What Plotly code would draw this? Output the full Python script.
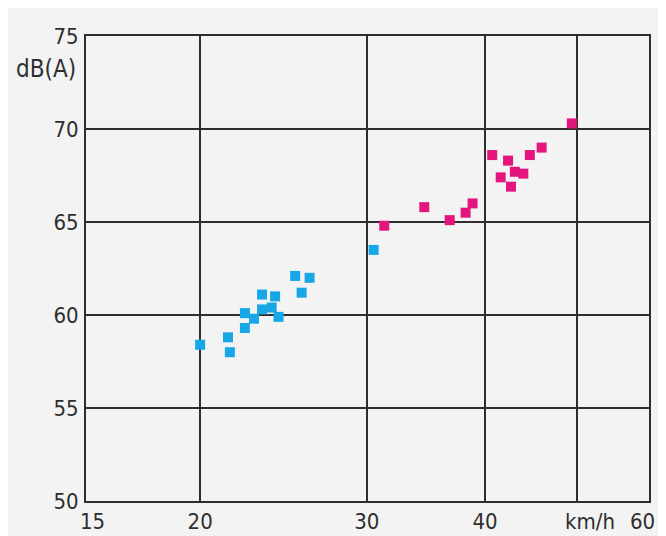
import math
import plotly.graph_objects as go

# Blue series (lower speeds)
blue_speed = [20.0, 21.4, 21.5, 22.3, 22.3, 22.8, 23.25, 23.25, 23.8, 24.0, 24.2, 25.2, 25.6, 26.1, 30.5]
blue_db = [58.4, 58.8, 58.0, 59.3, 60.1, 59.8, 61.1, 60.3, 60.4, 61.0, 59.9, 62.1, 61.2, 62.0, 63.5]

# Magenta series (higher speeds)
mag_speed = [31.3, 34.5, 36.7, 38.15, 38.8, 40.7, 41.55, 42.3, 42.6, 43.0, 43.9, 44.6, 45.9, 49.4]
mag_db = [64.8, 65.8, 65.1, 65.5, 66.0, 68.6, 67.4, 68.3, 66.9, 67.7, 67.6, 68.6, 69.0, 70.3]

x_ticks = [15, 20, 30, 40, 50, 60]
x_tick_text = ["", "20", "30", "40", "", ""]
y_ticks = [50, 55, 60, 65, 70, 75]

BG = "#f3f3f3"
INK = "#2e2e2e"
FONT = "DejaVu Sans Condensed, DejaVu Sans, sans-serif"

fig = go.Figure()
fig.add_trace(go.Scatter(x=blue_speed, y=blue_db, mode="markers",
                         marker=dict(symbol="square", size=10, color="#17a7e6",
                                     line=dict(width=0)), showlegend=False))
fig.add_trace(go.Scatter(x=mag_speed, y=mag_db, mode="markers",
                         marker=dict(symbol="square", size=10, color="#e5157f",
                                     line=dict(width=0)), showlegend=False))

edge_label = dict(xref="paper", yref="paper", y=0, yanchor="middle", yshift=-20,
                  showarrow=False, font=dict(family=FONT, size=22, color=INK))

fig.update_layout(
    width=658, height=528,
    margin=dict(l=78, r=17, t=28, b=35),
    paper_bgcolor=BG, plot_bgcolor=BG,
    font=dict(family=FONT, size=22, color=INK),
    xaxis=dict(type="log", range=[math.log10(15.15), math.log10(59.6)],
               tickvals=x_ticks, ticktext=x_tick_text,
               showgrid=True, gridcolor=INK, gridwidth=2,
               showline=True, linecolor=INK, linewidth=2, mirror=True,
               ticks="", automargin=False,
               zeroline=False, fixedrange=True),
    yaxis=dict(range=[50, 75], tickvals=y_ticks,
               showgrid=True, gridcolor=INK, gridwidth=2,
               showline=True, linecolor=INK, linewidth=2, mirror=True,
               ticks="outside", ticklen=1, tickcolor="rgba(0,0,0,0)",
               automargin=False, zeroline=False, fixedrange=True),
    annotations=[
        dict(text="dB(A)", xref="paper", yref="paper", x=-0.071, y=0.929,
             xanchor="center", yanchor="middle", showarrow=False,
             font=dict(family=FONT, size=24, color=INK)),
        dict(text="km/h", xref="x", yref="paper", x=math.log10(50), y=0,
             xanchor="center", yanchor="middle", xshift=13, yshift=-20,
             showarrow=False, font=dict(family=FONT, size=22, color=INK)),
        dict(text=str(x_ticks[0]), x=0, xanchor="center", xshift=6, **edge_label),
        dict(text=str(x_ticks[-1]), x=1, xanchor="right", xshift=8, **edge_label),
    ],
)

fig.write_html("out.html")
